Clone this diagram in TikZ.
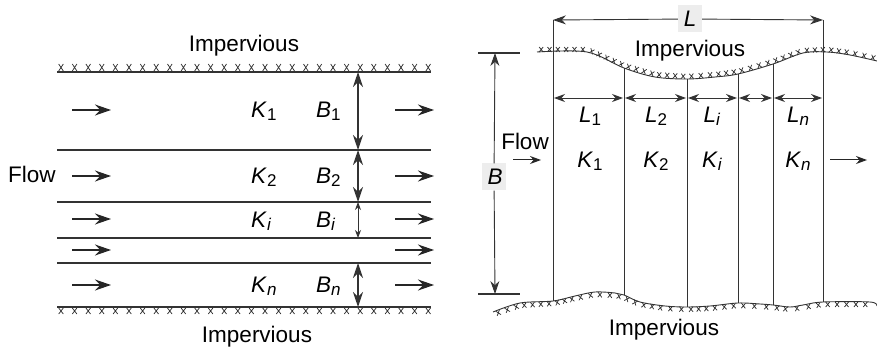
\documentclass[tikz,border=0pt]{standalone}
\usepackage{fontspec}
\setmainfont{Liberation Sans}
\usetikzlibrary{arrows.meta}
\newcommand\symb[2]{\textit{#1}\raisebox{-3pt}{\fontsize{17}{17}\selectfont #2}}
\begin{document}
\begin{tikzpicture}[x=1pt,y=-1pt,font=\fontsize{22.5}{26}\selectfont,
  line/.style={line width=1.2pt,draw=black!80},
  thin/.style={line width=0.9pt,draw=black!80},
  hatch/.style={line width=0.75pt,draw=black!80},
  flowarrow/.style={line width=1.2pt,draw=black!85,-{Stealth[length=16pt,width=11pt]}},
  smallflow/.style={line width=1pt,draw=black!85,-{Stealth[length=11pt,width=8pt]}},
  dimarrow/.style={line width=1.2pt,draw=black!80,{Stealth[length=15pt,width=10pt]}-{Stealth[length=15pt,width=10pt]}},
  tinydim/.style={line width=0.9pt,draw=black!80,{Stealth[length=8pt,width=6pt]}-{Stealth[length=8pt,width=6pt]}},
  ldim/.style={line width=0.9pt,draw=black!80,{Stealth[length=11pt,width=8pt]}-{Stealth[length=11pt,width=8pt]}},
  onearrow/.style={line width=0.9pt,draw=black!80,-{Stealth[length=13pt,width=9pt]}},
  lbl/.style={anchor=base west,inner sep=0pt},
  ctr/.style={anchor=base,inner sep=0pt},
  greybox/.style={fill=black!7,inner sep=0pt,minimum width=24pt,minimum height=27pt},
  xu/.pic={\draw[hatch] (-2pt,0pt)--(2pt,5pt) (2pt,0pt)--(-2pt,5pt);},
  xd/.pic={\draw[hatch] (-2pt,0pt)--(2pt,-5pt) (2pt,0pt)--(-2pt,-5pt);}
]
\useasboundingbox (0,0) rectangle (877,347);

%% ---------------- Left diagram ----------------
\node[ctr] (impTL) at (244,52) {Impervious};
\node[ctr] (impBL) at (257,342) {Impervious};
\node[lbl] (flowL) at (8,183) {Flow};

\foreach \y in {72,150,202,238,263,307} \draw[line] (57,\y) -- (431,\y);
\foreach \i in {0,...,27} {
  \draw[hatch] ({61+13.6*\i-2.3},64) -- ++(4.6,7) ({61+13.6*\i+2.3},64) -- ++(-4.6,7);
  \draw[hatch] ({61+13.6*\i-2.3},308) -- ++(4.6,6) ({61+13.6*\i+2.3},308) -- ++(-4.6,6);
}
\foreach \y in {110,176,219,250,285} {
  \draw[flowarrow] (72,\y) -- (111,\y);
  \draw[flowarrow] (395,\y) -- (434,\y);
}
\node[lbl] (K1) at (251,118) {\symb{K}{1}};
\node[lbl] (B1) at (316,118) {\symb{B}{1}};
\node[lbl] (K2) at (251,184) {\symb{K}{2}};
\node[lbl] (B2) at (316,184) {\symb{B}{2}};
\node[lbl] (Ki) at (251,228) {\symb{K}{\textit{i}}};
\node[lbl] (Bi) at (316,228) {\symb{B}{\textit{i}}};
\node[lbl] (Kn) at (251,292) {\symb{K}{\textit{n}}};
\node[lbl] (Bn) at (316,292) {\symb{B}{\textit{n}}};

\coordinate (b0) at (358,72);
\coordinate (b1) at (358,150);
\coordinate (b2) at (358,202);
\coordinate (b3) at (358,238);
\coordinate (b4) at (358,263);
\coordinate (b5) at (358,307);
\draw[dimarrow] (b0) -- (b1);
\draw[dimarrow] (b1) -- (b2);
\draw[tinydim] (b2) -- (b3);
\draw[dimarrow] (b4) -- (b5);

%% ---------------- Right diagram ----------------
\draw[thin] plot[smooth,tension=0.55] coordinates {(537,52) (587,52) (624,68) (655,77) (687,79) (715,77) (738,74) (773,64) (803,53) (827,52) (850,55) (877,61)};
\draw[thin] plot[smooth,tension=0.55] coordinates {(493,312) (520,303) (553,301) (575,296) (595,292) (615,293) (624,295) (640,302) (665,306) (687,307) (710,306) (738,303) (760,304) (773,305) (790,307) (803,305) (823,302) (870,302) (877,306)};

\foreach \ax/\ay/\bx/\by/\n in {537/52/587/52/6, 587/52/624/68/5, 624/68/655/77/4, 655/77/687/79/4,
   687/79/715/77/3, 715/77/738/74/3, 738/74/773/64/4, 773/64/803/53/4, 803/53/827/52/3,
   827/52/850/55/3, 850/55/877/61/3} {
  \foreach \j in {1,...,\n} {
    \pgfmathsetmacro\pp{(\j-0.5)/\n}
    \path (\ax,\ay) -- (\bx,\by) pic[pos=\pp,sloped] {xu};
  }
}
\foreach \ax/\ay/\bx/\by/\n in {493/312/520/303/3, 520/303/553/301/4, 553/301/575/296/3, 575/296/595/292/2,
   595/292/615/293/2, 615/293/624/295/1, 624/295/640/302/2, 640/302/665/306/3, 665/306/687/307/2,
   687/307/710/306/3, 710/306/738/303/3, 738/303/760/304/2, 760/304/773/305/1, 773/305/790/307/2,
   790/307/803/305/1, 803/305/823/302/2, 823/302/870/302/5} {
  \foreach \j in {1,...,\n} {
    \pgfmathsetmacro\pp{(\j-0.5)/\n}
    \path (\ax,\ay) -- (\bx,\by) pic[pos=\pp,sloped] {xd};
  }
}

\coordinate (v0t) at (553,20);  \coordinate (v0b) at (553,301);
\coordinate (v1t) at (624,68);  \coordinate (v1b) at (624,295);
\coordinate (v2t) at (687,79);  \coordinate (v2b) at (687,307);
\coordinate (v3t) at (738,74);  \coordinate (v3b) at (738,303);
\coordinate (v4t) at (773,64);  \coordinate (v4b) at (773,305);
\coordinate (v5t) at (823,20);  \coordinate (v5b) at (823,302);
\foreach \k in {0,...,5} \draw[thin] (v\k t) -- (v\k b);

\node[greybox] (L) at (690,19) {};
\node[ctr] at (690,27) {\textit{L}};
\draw[onearrow] (L) -- (v0t);
\draw[onearrow] (L) -- (v5t);

\foreach \a/\b in {553/624,624/687,687/738,738/773,773/823}
  \draw[ldim] (\a+1,98) -- (\b-1,98);

\node[ctr] (L1) at (590,123) {\symb{L}{1}};
\node[ctr] (L2) at (656,123) {\symb{L}{2}};
\node[ctr] (Li) at (712,123) {\symb{L}{\textit{i}}};
\node[ctr] (Ln) at (798,123) {\symb{L}{\textit{n}}};
\node[ctr] (RK1) at (590,168) {\symb{K}{1}};
\node[ctr] (RK2) at (656,168) {\symb{K}{2}};
\node[ctr] (RKi) at (712,168) {\symb{K}{\textit{i}}};
\node[ctr] (RKn) at (798,168) {\symb{K}{\textit{n}}};

\node[ctr] (flowR) at (525,150) {Flow};
\draw[smallflow] (513,160) -- (541,160);
\draw[smallflow] (830,160) -- (867,160);

\node[ctr] (impTR) at (690,57) {Impervious};
\node[ctr] (impBR) at (664,335) {Impervious};

\coordinate (Bt) at (495,53);
\coordinate (Bb) at (495,294);
\draw[line] (478,53) -- (520,53);
\draw[line] (478,294) -- (520,294);
\node[greybox] (B) at (494,177) {};
\node[ctr] at (495,185) {\textit{B}};
\draw[onearrow] (B) -- (Bt);
\draw[onearrow] (B) -- (Bb);
\end{tikzpicture}
\end{document}
